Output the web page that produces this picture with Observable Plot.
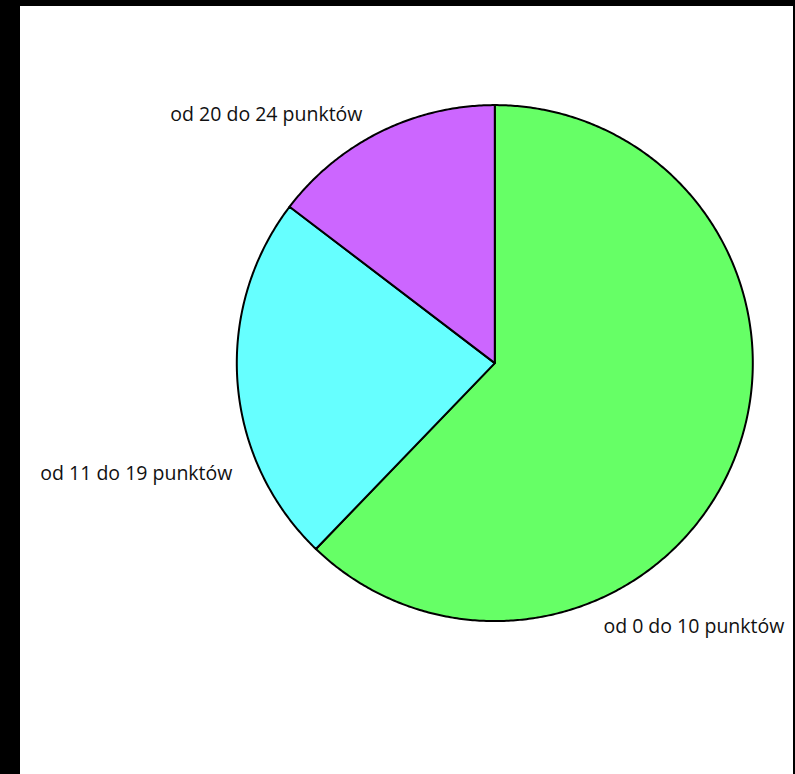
<!DOCTYPE html>
<html>
<head>
<meta charset="utf-8">
<script src="https://cdn.jsdelivr.net/npm/d3@7"></script>
<script src="https://cdn.jsdelivr.net/npm/@observablehq/plot@0.6"></script>
<style>
  html, body { margin: 0; padding: 0; background: #000; }
  #wrap { padding: 6px 2px 0 20px; width: 773px; height: 768px; }
  #wrap svg { background: #fff; display: block; }
</style>
</head>
<body>
<div id="wrap"></div>
<script>
// Data
const categories = ["od 0 do 10 punktów", "od 11 do 19 punktów", "od 20 do 24 punktów"];
const counts = [51, 19, 12];
const colors = ["#66ff66", "#66ffff", "#cc66ff"];

// Label layout (in pie-radius units, via x/y scales)
const labelX = [0.421, -1.017, -0.513];
const labelY = [-1.02, -0.43, 0.962];
const labelAnchor = ["start", "end", "end"];

// Build slices with d3.pie (clockwise from 12 o'clock)
const pie = d3.pie().sort(null).value(d => d.count)(
  categories.map((c, i) => ({cat: c, count: counts[i]}))
);
const pts = [];
for (const s of pie) {
  pts.push({cat: s.data.cat, x: 0, y: 0});
  const n = Math.max(2, Math.ceil((s.endAngle - s.startAngle) / (Math.PI / 360)));
  for (let k = 0; k <= n; k++) {
    const a = s.startAngle + (s.endAngle - s.startAngle) * k / n;
    pts.push({cat: s.data.cat, x: Math.sin(a), y: Math.cos(a)});
  }
}

const labels = categories.map((c, i) => ({text: c, x: labelX[i], y: labelY[i], anchor: labelAnchor[i]}));

const chart = Plot.plot({
  width: 773,
  height: 768,
  marginLeft: 216.3,
  marginRight: 40.7,
  marginTop: 98.6,
  marginBottom: 153.4,
  x: {domain: [-1, 1], axis: null},
  y: {domain: [-1, 1], axis: null},
  color: {domain: categories, range: colors},
  style: {fontFamily: "'Open Sans', sans-serif", background: "#fff"},
  marks: [
    Plot.line(pts, {x: "x", y: "y", z: "cat", fill: "cat", stroke: "#000", strokeWidth: 2, curve: "linear-closed", strokeLinejoin: "round"}),
    ...["start", "end"].map(anchor =>
      Plot.text(labels.filter(d => d.anchor === anchor), {
        x: "x", y: "y", text: "text", textAnchor: anchor, lineAnchor: "middle",
        fontSize: 19.5, fill: "#111"
      })
    )
  ]
});
document.getElementById("wrap").appendChild(chart);
</script>
</body>
</html>
